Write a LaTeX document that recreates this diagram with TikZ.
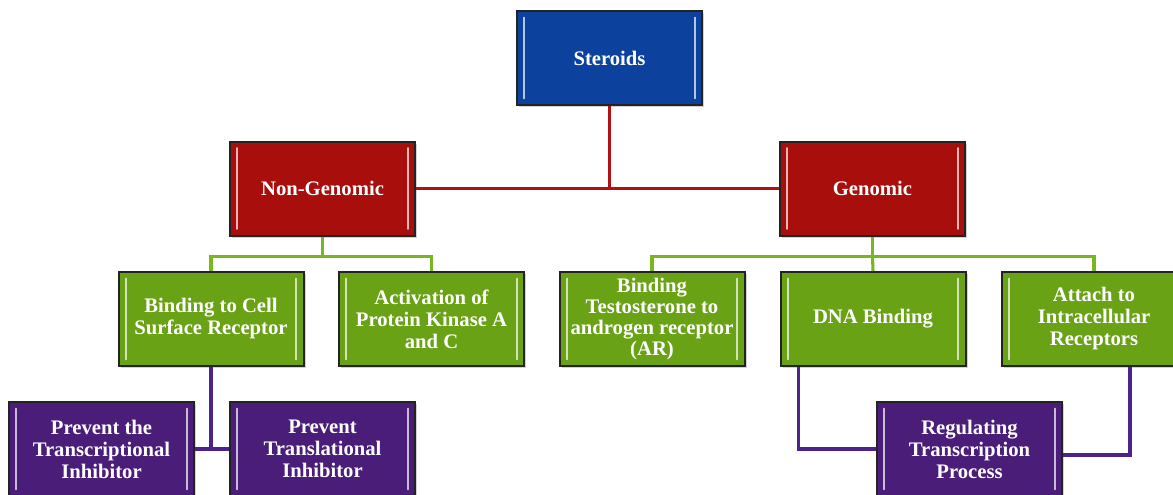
\documentclass[tikz,border=0pt]{standalone}
\usepackage{fontspec}
\setmainfont{Liberation Serif}
\usetikzlibrary{shadows}

\definecolor{steroidblue}{RGB}{12,66,158}
\definecolor{modered}{RGB}{168,14,12}
\definecolor{effectgreen}{RGB}{106,162,22}
\definecolor{resultpurple}{RGB}{74,30,120}
\definecolor{redlink}{RGB}{178,16,20}
\definecolor{greenlink}{RGB}{122,182,30}
\definecolor{purplelink}{RGB}{76,34,140}

\tikzset{every picture/.style={line width=0.75pt}}
\tikzset{
  chartbox/.style={draw={rgb, 255:red, 35; green, 35; blue, 35}, line width=1.5pt, fill=#1,
    text=white, font=\fontsize{15.5}{16.5}\selectfont\bfseries, align=center,
    minimum width=138.75pt, minimum height=70.5pt, inner sep=1pt,
    drop shadow={shadow xshift=1.5pt, shadow yshift=-1.5pt, opacity=0.35},
    path picture={
      \draw[#1!30!white, line width=1.6pt, line cap=round]
        ([xshift=5.5pt,yshift=-5pt]path picture bounding box.north west) --
        ([xshift=5.5pt,yshift=5pt]path picture bounding box.south west);
      \draw[#1!30!white, line width=1.6pt, line cap=round]
        ([xshift=-5.5pt,yshift=-5pt]path picture bounding box.north east) --
        ([xshift=-5.5pt,yshift=5pt]path picture bounding box.south east);
    }},
  tightbox/.style={font=\fontsize{15.5}{15.8}\selectfont\bfseries},
  redline/.style={draw=redlink, line width=2.3pt},
  greenline/.style={draw=greenlink, line width=2.3pt},
  purpleline/.style={draw=purplelink, line width=2.3pt}
}

\begin{document}
\begin{tikzpicture}[x=0.75pt,y=0.75pt,yscale=-1,xscale=1]
	\useasboundingbox (0,0) rectangle (1173,494);

	% Top box
	\node [chartbox=steroidblue] (steroids) at (609.5,58) {Steroids};
	% Modes of action
	\node [chartbox=modered] (nongen) at (322.5,188.5) {Non-Genomic};
	\node [chartbox=modered] (gen) at (872.5,188.5) {Genomic};
	% Effects
	\node [chartbox=effectgreen] (cellrec) at (211,319) {Binding to Cell\\Surface Receptor};
	\node [chartbox=effectgreen] (kinase) at (431.5,319) {Activation of\\Protein Kinase A\\and C};
	\node [chartbox=effectgreen, tightbox] (testo) at (652,319) {Binding\\Testosterone to\\androgen receptor\\(AR)};
	\node [chartbox=effectgreen] (dnabind) at (873,319) {DNA Binding};
	\node [chartbox=effectgreen] (attach) at (1094,319) {Attach to\\Intracellular\\Receptors};
	% Results
	\node [chartbox=resultpurple] (transcr) at (101.5,449) {Prevent the\\Transcriptional\\Inhibitor};
	\node [chartbox=resultpurple] (transl) at (322.5,449) {Prevent\\Translational\\Inhibitor};
	\node [chartbox=resultpurple] (regul) at (969.5,449) {Regulating\\Transcription\\Process};

	% Red links
	\draw [redline] (steroids.south) -- (steroids.south |- nongen.east);
	\draw [redline] (nongen.east) -- (gen.west);
	% Green links
	\draw [greenline] (nongen.south) -- ++(0,20) coordinate (ngjoin);
	\draw [greenline] (ngjoin) -| (cellrec.north);
	\draw [greenline] (ngjoin) -| (kinase.north);
	\draw [greenline] (gen.south) -- ++(0,20) coordinate (gjoin);
	\draw [greenline] (gjoin) -| (testo.north);
	\draw [greenline] (gjoin) -- (dnabind.north);
	\draw [greenline] (gjoin) -| (attach.north);
	% Purple links
	\draw [purpleline] (cellrec.south) -- (cellrec.south |- transcr.east);
	\draw [purpleline] (transcr.east) -- (transl.west);
	\draw [purpleline] ([xshift=14pt]dnabind.south west) |- (regul.west);
	\draw [purpleline] ([xshift=27pt]attach.south) |- ([yshift=4.5pt]regul.east);

\end{tikzpicture}
\end{document}
